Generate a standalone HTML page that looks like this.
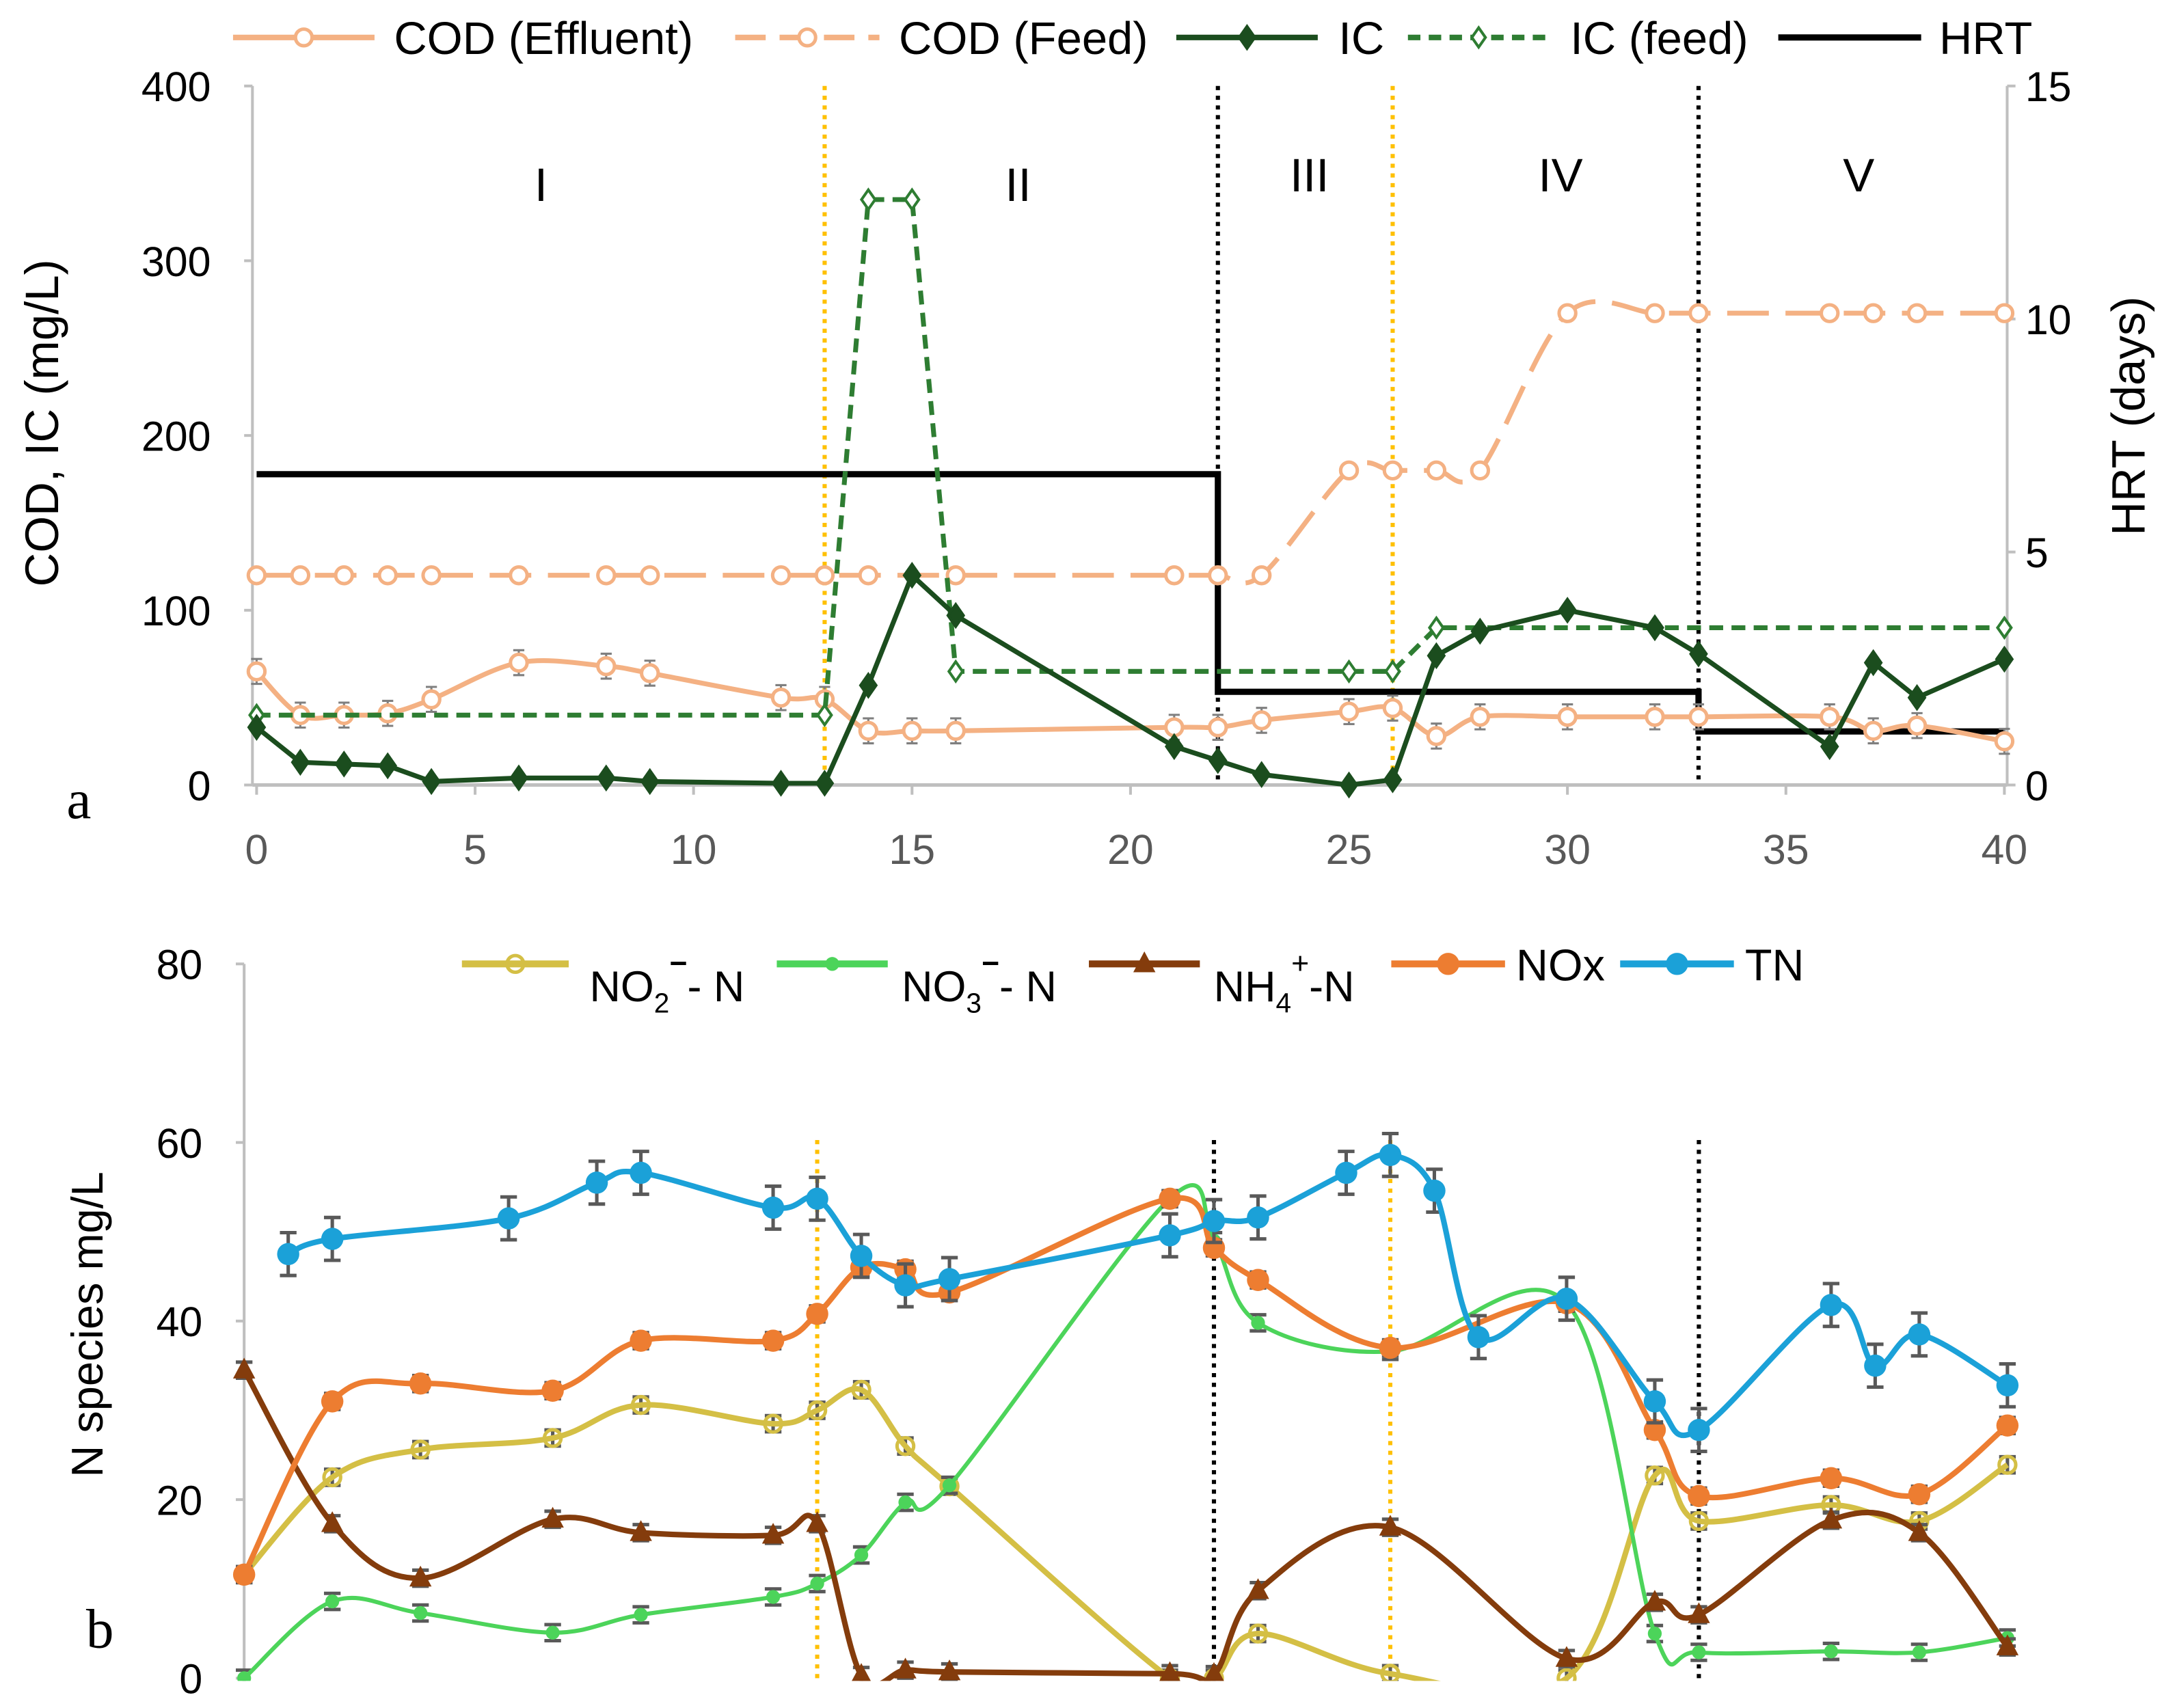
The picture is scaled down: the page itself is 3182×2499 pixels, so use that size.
<!DOCTYPE html>
<html><head><meta charset="utf-8"><style>
html,body{margin:0;padding:0;background:#fff;}
svg{display:block;font-family:"Liberation Sans",sans-serif;}
</style></head><body>
<svg id="chart" width="3182" height="2499" viewBox="0 0 1568 1231.5" preserveAspectRatio="none" xmlns="http://www.w3.org/2000/svg">
<defs>
<clipPath id="clipB"><rect x="150" y="660" width="1330" height="552"/></clipPath>
</defs>
<g id="top"></g>
<g id="bot"></g>
</svg>
<script>
// ---- Panel a data ----
const codEffDays=[0,1,2,3,4,6,8,9,12,13,14,15,16,21,22,23,25,26,27,28,30,32,33,36,37,38,40];
const codEffVals=[65,40,40,41,49,70,68,64,50,49,31,31,31,33,33,37,42,44,28,39,39,39,39,39,31,34,25];
const codFeedDays=[0,1,2,3,4,6,8,9,12,13,14,16,21,22,23,25,26,27,28,30,32,33,36,37,38,40];
const codFeedVals=[120,120,120,120,120,120,120,120,120,120,120,120,120,120,120,180,180,180,180,270,270,270,270,270,270,270];
const icDays=[0,1,2,3,4,6,8,9,12,13,14,15,16,21,22,23,25,26,27,28,30,32,33,36,37,38,40];
const icVals=[33,13,12,11,2,4,4,2,1,1,57,120,97,22,14,6,0,3,74,88,100,90,75,22,70,50,72];
const icFeedDays=[0,13,14,15,16,25,26,27,40];
const icFeedVals=[40,40,335,335,65,65,65,90,90];
const hrtDays=[0,22,22,33,33,40];
const hrtVals=[6.67,6.67,2,2,1.15,1.15];
const leftTicks=[0,100,200,300,400];
const rightTicks=[0,5,10,15];
const xTicks=[0,5,10,15,20,25,30,35,40];
// ---- Panel b data ----
const tnDays=[1,2,6,8,9,12,13,14,15,16,21,22,23,25,26,27,28,30,32,33,36,37,38,40];
const tnVals=[47.5,49.2,51.5,55.5,56.6,52.7,53.7,47.3,44,44.7,49.6,51.2,51.6,56.6,58.6,54.6,38.2,42.5,31,27.8,41.8,35,38.5,32.8];
const nDays=[0,2,4,7,9,12,13,14,15,16,21,22,23,26,30,32,33,36,38,40];
const noxVals=[11.6,31,33,32.2,37.8,37.8,40.8,46,45.8,43.2,53.7,48.2,44.6,37,42,27.8,20.4,22.4,20.6,28.3];
const no2Vals=[11.6,22.5,25.6,26.9,30.6,28.5,30,32.3,26,21.5,0,0,5,0.5,0,22.7,17.6,19.4,17.6,23.9];
const no3Vals=[0,8.6,7.3,5.1,7.1,9.1,10.6,13.8,19.7,21.6,53.7,49,39.8,36.6,42,5,2.9,3,2.9,4.5];
const nh4Vals=[34.5,17.3,11.2,17.8,16.3,16,17.3,0.3,0.9,0.7,0.5,0.4,9.8,16.9,2.2,8.5,7.1,17.7,16.3,3.5];
const bTicks=[0,20,40,60,80];

const NS="http://www.w3.org/2000/svg";
function mk(parent,tag,attrs,text){const e=document.createElementNS(NS,tag);for(const k in attrs)e.setAttribute(k,attrs[k]);if(text!==undefined)e.textContent=text;parent.appendChild(e);return e;}
function smooth(pts){
  if(pts.length<2)return "";
  let d="M"+pts[0][0]+","+pts[0][1];
  for(let i=0;i<pts.length-1;i++){
    const p0=pts[i-1]||pts[i],p1=pts[i],p2=pts[i+1],p3=pts[i+2]||p2;
    const t=0.5/3;
    const c1=[p1[0]+(p2[0]-p0[0])*t,p1[1]+(p2[1]-p0[1])*t];
    const c2=[p2[0]-(p3[0]-p1[0])*t,p2[1]-(p3[1]-p1[1])*t];
    d+=" C"+c1+" "+c2+" "+p2;
  }
  return d;
}
function poly(pts){return "M"+pts.map(p=>p.join(",")).join(" L");}

// ===== Panel a =====
const T=document.getElementById('top');
const ax=d=>185+d*31.5, ay=v=>566-v*1.26, ary=v=>566-v*33.6;
let e=mk(T,'line',{x1:182,y1:62,x2:182,y2:566,stroke:'#bfbfbf','stroke-width':2});

e=mk(T,'line',{x1:1447,y1:62,x2:1447,y2:566,stroke:'#bfbfbf','stroke-width':2});

e=mk(T,'line',{x1:182,y1:566,x2:1447,y2:566,stroke:'#bfbfbf','stroke-width':2.5});

leftTicks.forEach(v=>{
  mk(T,'line',{x1:176,y1:ay(v),x2:182,y2:ay(v),stroke:'#bfbfbf','stroke-width':2});
  e=mk(T,'text',{x:152,y:ay(v)+11,'text-anchor':'end','font-size':30,fill:'#000'},v);
  
});
rightTicks.forEach(v=>{
  mk(T,'line',{x1:1447,y1:ary(v),x2:1453,y2:ary(v),stroke:'#bfbfbf','stroke-width':2});
  e=mk(T,'text',{x:1460,y:ary(v)+11,'font-size':30,fill:'#000'},v);
  
});
xTicks.forEach(v=>{
  mk(T,'line',{x1:ax(v),y1:566,x2:ax(v),y2:573,stroke:'#bfbfbf','stroke-width':2});
  e=mk(T,'text',{x:ax(v),y:623,'text-anchor':'middle','font-size':30,fill:'#595959'},v);
  
});
e=mk(T,'text',{transform:'translate(42,305) rotate(-90)','text-anchor':'middle','font-size':34,fill:'#000'},'COD, IC (mg/L)');

e=mk(T,'text',{transform:'translate(1546,300) rotate(-90)','text-anchor':'middle','font-size':34,fill:'#000'},'HRT (days)');

e=mk(T,'text',{x:48,y:590,'font-size':40,'font-family':'Liberation Serif,serif',fill:'#000'},'a');

[[13,'#ffc000'],[22,'#000'],[26,'#ffc000'],[33,'#000']].forEach(([d,c])=>{
  e=mk(T,'line',{x1:ax(d),y1:62,x2:ax(d),y2:566,stroke:c,'stroke-width':3,'stroke-dasharray':'3,4'});
  
});
[['I',390,145],['II',734,145],['III',944,138],['IV',1125,138],['V',1340,138]].forEach(([t,x,y])=>{
  e=mk(T,'text',{x:x,y:y,'text-anchor':'middle','font-size':34,fill:'#000'},t);
  
});
e=mk(T,'path',{d:poly(hrtDays.map((d,i)=>[ax(d),ary(hrtVals[i])])),fill:'none',stroke:'#000','stroke-width':4.5});

e=mk(T,'path',{d:smooth(codFeedDays.map((d,i)=>[ax(d),ay(codFeedVals[i])])),fill:'none',stroke:'#f4b183','stroke-width':3.5,'stroke-dasharray':'30,12'});

codFeedDays.forEach((d,i)=>{e=mk(T,'circle',{cx:ax(d),cy:ay(codFeedVals[i]),r:6,fill:'#fff',stroke:'#f4b183','stroke-width':2.5});
});
codEffDays.forEach((d,i)=>{const x=ax(d),y=ay(codEffVals[i]);mk(T,'path',{d:`M${x},${y-9}V${y+9}M${x-4},${y-9}H${x+4}M${x-4},${y+9}H${x+4}`,stroke:'#7f7f7f','stroke-width':1.5});});
e=mk(T,'path',{d:smooth(codEffDays.map((d,i)=>[ax(d),ay(codEffVals[i])])),fill:'none',stroke:'#f4b183','stroke-width':3.5});

codEffDays.forEach((d,i)=>{e=mk(T,'circle',{cx:ax(d),cy:ay(codEffVals[i]),r:6,fill:'#fff',stroke:'#f4b183','stroke-width':2.5});
});
e=mk(T,'path',{d:poly(icFeedDays.map((d,i)=>[ax(d),ay(icFeedVals[i])])),fill:'none',stroke:'#2e7d32','stroke-width':3.5,'stroke-dasharray':'10,6'});

function diamond(g,x,y,s,fill,stroke){return mk(g,'path',{d:`M${x},${y-s}L${x+s*0.7},${y}L${x},${y+s}L${x-s*0.7},${y}Z`,fill:fill,stroke:stroke,'stroke-width':2});}
icFeedDays.forEach((d,i)=>{e=diamond(T,ax(d),ay(icFeedVals[i]),7,'#fff','#2e7d32');
});
e=mk(T,'path',{d:poly(icDays.map((d,i)=>[ax(d),ay(icVals[i])])),fill:'none',stroke:'#1b4d1e','stroke-width':3.5});

icDays.forEach((d,i)=>{e=diamond(T,ax(d),ay(icVals[i]),8,'#1b4d1e','#1b4d1e');
});
function legA(x1,x2,tx,label,drawLine,drawMark,name){
  const g=mk(T,'g',{});
  
  drawLine(g,x1,x2);drawMark(g,(x1+x2)/2,27);
  mk(g,'text',{x:tx,y:39,'font-size':33,fill:'#000'},label);
}
legA(168,270,284,'COD (Effluent)',(g,a,b)=>mk(g,'line',{x1:a,y1:27,x2:b,y2:27,stroke:'#f4b183','stroke-width':4}),(g,x,y)=>mk(g,'circle',{cx:x,cy:y,r:6,fill:'#fff',stroke:'#f4b183','stroke-width':2.5}),'legend-cod-effluent');
legA(530,634,648,'COD (Feed)',(g,a,b)=>mk(g,'line',{x1:a,y1:27,x2:b,y2:27,stroke:'#f4b183','stroke-width':4,'stroke-dasharray':'22,10'}),(g,x,y)=>mk(g,'circle',{cx:x,cy:y,r:6,fill:'#fff',stroke:'#f4b183','stroke-width':2.5}),'legend-cod-feed');
legA(848,950,965,'IC',(g,a,b)=>mk(g,'line',{x1:a,y1:27,x2:b,y2:27,stroke:'#1b4d1e','stroke-width':4}),(g,x,y)=>diamond(g,x,y,8,'#1b4d1e','#1b4d1e'),'legend-ic');
legA(1015,1117,1132,'IC (feed)',(g,a,b)=>mk(g,'line',{x1:a,y1:27,x2:b,y2:27,stroke:'#2e7d32','stroke-width':4,'stroke-dasharray':'9,6'}),(g,x,y)=>diamond(g,x,y,7,'#fff','#2e7d32'),'legend-ic-feed');
legA(1282,1385,1398,'HRT',(g,a,b)=>mk(g,'line',{x1:a,y1:27,x2:b,y2:27,stroke:'#000','stroke-width':4.5}),()=>{},'legend-hrt');

// ===== Panel b =====
const B=document.getElementById('bot');
const bx=d=>176+d*31.78, by=v=>1210-v*6.4375;
e=mk(B,'line',{x1:176,y1:695,x2:176,y2:1210,stroke:'#bfbfbf','stroke-width':2});

bTicks.forEach(v=>{
  mk(B,'line',{x1:170,y1:by(v),x2:176,y2:by(v),stroke:'#bfbfbf','stroke-width':2});
  e=mk(B,'text',{x:146,y:by(v)+11,'text-anchor':'end','font-size':30,fill:'#000'},v);
  
});
e=mk(B,'text',{transform:'translate(74,955) rotate(-90)','text-anchor':'middle','font-size':32,fill:'#000'},'N species mg/L');

e=mk(B,'text',{x:62,y:1188,'font-size':40,'font-family':'Liberation Serif,serif',fill:'#000'},'b');

[[13,'#ffc000'],[22,'#000'],[26,'#ffc000'],[33,'#000']].forEach(([d,c])=>{
  e=mk(B,'line',{x1:bx(d),y1:822,x2:bx(d),y2:1212,stroke:c,'stroke-width':3,'stroke-dasharray':'3,4'});
  
});
const series=[
  ['no2',nDays,no2Vals,'#d4bf45','ring',0.9],
  ['no3',nDays,no3Vals,'#4cd45a','dot',0.9],
  ['nh4',nDays,nh4Vals,'#843c0c','tri',0.9],
  ['nox',nDays,noxVals,'#ed7d31','big',0.9],
  ['tn',tnDays,tnVals,'#1ba1d8','big',2.4]
];
function marker(g,type,x,y,c){
  if(type==='ring')return mk(g,'circle',{cx:x,cy:y,r:6,fill:'none',stroke:c,'stroke-width':2.5});
  if(type==='dot')return mk(g,'circle',{cx:x,cy:y,r:5,fill:c});
  if(type==='tri')return mk(g,'path',{d:`M${x},${y-9}L${x+8},${y+6}L${x-8},${y+6}Z`,fill:c});
  return mk(g,'circle',{cx:x,cy:y,r:8,fill:c});
}
series.forEach(([nm,days,vals,c,mt,eb])=>{
  const g=mk(B,'g',{'clip-path':'url(#clipB)'});
  
  days.forEach((d,i)=>{const x=bx(d),y=by(vals[i]),h=eb*6.4375;
    mk(g,'path',{d:`M${x},${y-h}V${y+h}M${x-6},${y-h}H${x+6}M${x-6},${y+h}H${x+6}`,stroke:'#595959','stroke-width':2.5});});
  e=mk(g,'path',{d:smooth(days.map((d,i)=>[bx(d),by(vals[i])])),fill:'none',stroke:c,'stroke-width':nm==='no3'?3:4});
  
  days.forEach((d,i)=>{e=marker(g,mt,bx(d),by(vals[i]),c);
    });
});
function legB(x1,x2,c,mt,name,build){
  const g=mk(B,'g',{});
  
  mk(g,'line',{x1:x1,y1:695,x2:x2,y2:695,stroke:c,'stroke-width':5});
  marker(g,mt,(x1+x2)/2,695,c);
  build(g);
}
legB(333,410,'#d4bf45','ring','legend-no2',g=>{const t=mk(g,'text',{x:425,y:722,'font-size':31,fill:'#000'});
  t.appendChild(document.createTextNode('NO'));mk(t,'tspan',{'font-size':20,dy:8},'2');mk(t,'tspan',{'font-size':22,dy:-28,'font-weight':'bold'},'−');mk(t,'tspan',{dy:20},'- N');});
legB(560,640,'#4cd45a','dot','legend-no3',g=>{const t=mk(g,'text',{x:650,y:722,'font-size':31,fill:'#000'});
  t.appendChild(document.createTextNode('NO'));mk(t,'tspan',{'font-size':20,dy:8},'3');mk(t,'tspan',{'font-size':22,dy:-28,'font-weight':'bold'},'−');mk(t,'tspan',{dy:20},'- N');});
legB(785,865,'#843c0c','tri','legend-nh4',g=>{const t=mk(g,'text',{x:875,y:722,'font-size':31,fill:'#000'});
  t.appendChild(document.createTextNode('NH'));mk(t,'tspan',{'font-size':20,dy:8},'4');mk(t,'tspan',{'font-size':22,dy:-28},'+');mk(t,'tspan',{dy:20},'-N');});
legB(1003,1085,'#ed7d31','big','legend-nox',g=>mk(g,'text',{x:1093,y:707,'font-size':32,fill:'#000'},'NOx'));
legB(1168,1250,'#1ba1d8','big','legend-tn',g=>mk(g,'text',{x:1258,y:707,'font-size':32,fill:'#000'},'TN'));
</script>
</body></html>
